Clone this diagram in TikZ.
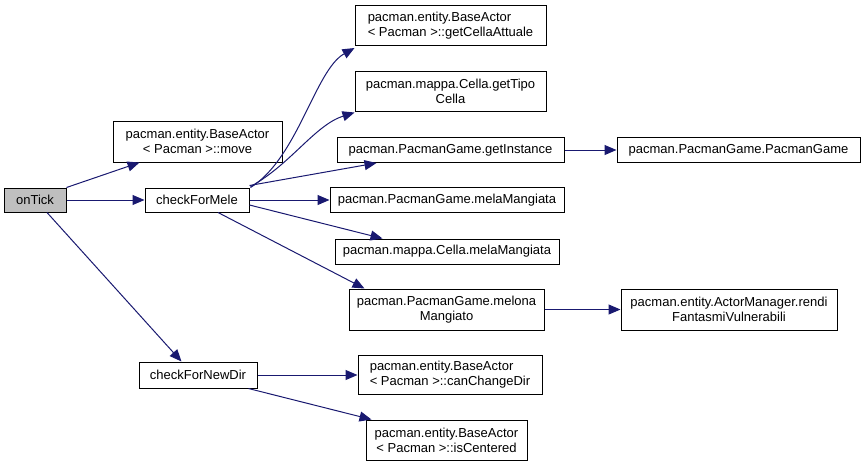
\documentclass[tikz,border=0pt]{standalone}
\usepackage{fontspec}
\setmainfont{Liberation Sans}
\usetikzlibrary{arrows.meta}
\definecolor{edgeblue}{HTML}{191970}
\definecolor{boxgray}{HTML}{BFBFBF}
\begin{document}
\begin{tikzpicture}[x=1pt,y=-1pt,
  box/.style={draw=black,line width=1pt,fill=white,inner sep=0pt,
    font=\fontsize{13}{15}\selectfont,align=center},
  edge/.style={draw=edgeblue,line width=1pt,-{Triangle[length=12pt,width=10pt]}}]
\useasboundingbox (0,0) rectangle (867,467);
% nodes
\node[box,fill=boxgray,minimum width=62pt,minimum height=24pt] (ontick) at (35,200) {onTick};
\node[box,minimum width=169pt,minimum height=41pt] (move) at (197.5,141.5) {pacman.entity.BaseActor\\< Pacman >::move};
\node[box,minimum width=104pt,minimum height=24pt] (cfm) at (197,200) {checkForMele};
\node[box,minimum width=191pt,minimum height=40pt,align=left] (gca) at (450.5,25.5) {pacman.entity.BaseActor\\< Pacman >::getCellaAttuale};
\node[box,minimum width=191pt,minimum height=40pt] (gtc) at (450.5,91) {pacman.mappa.Cella.getTipo\\Cella};
\node[box,minimum width=227pt,minimum height=25pt] (gi) at (450.5,150) {pacman.PacmanGame.getInstance};
\node[box,minimum width=243pt,minimum height=25pt] (pg) at (738.5,150) {pacman.PacmanGame.PacmanGame};
\node[box,minimum width=234pt,minimum height=25pt] (pgmm) at (447,200) {pacman.PacmanGame.melaMangiata};
\node[box,minimum width=224pt,minimum height=25pt] (cmm) at (447,251.5) {pacman.mappa.Cella.melaMangiata};
\node[box,minimum width=195pt,minimum height=41pt] (mel) at (446.5,309.5) {pacman.PacmanGame.melona\\Mangiato};
\node[box,minimum width=216pt,minimum height=41pt] (rfv) at (729,309.5) {pacman.entity.ActorManager.rendi\\FantasmiVulnerabili};
\node[box,minimum width=118pt,minimum height=26pt] (cfnd) at (198,375) {checkForNewDir};
\node[box,minimum width=184pt,minimum height=39pt,align=left] (ccd) at (450,375) {pacman.entity.BaseActor\\< Pacman >::canChangeDir};
\node[box,minimum width=161pt,minimum height=40pt] (isc) at (446.5,440) {pacman.entity.BaseActor\\< Pacman >::isCentered};
% edges
\draw[edge] (ontick.north east) -- ([xshift=27pt]move.south west);
\draw[edge] (ontick) -- (cfm);
\draw[edge] ([xshift=12pt]ontick.south) -- ([xshift=43pt]cfnd.north west);
\draw[edge] ([xshift=1pt]cfm.north east) .. controls (298,158) and (315,70) .. ([yshift=-2pt]gca.south west);
\draw[edge] ([xshift=1pt,yshift=1pt]cfm.north east) .. controls (290,165) and (315,125) .. ([yshift=-1pt]gtc.south west);
\draw[edge] ([yshift=2pt]cfm.north east) -- ([xshift=40pt]gi.south west);
\draw[edge] (cfm) -- (pgmm);
\draw[edge] ([yshift=-5pt]cfm.east) -- ([xshift=48pt]cmm.north west);
\draw[edge] ([xshift=21pt]cfm.south) -- ([xshift=16pt]mel.north west);
\draw[edge] (gi) -- (pg);
\draw[edge] (mel) -- (rfv);
\draw[edge] (cfnd) -- (ccd);
\draw[edge] ([xshift=-9pt]cfnd.south east) -- ([xshift=6pt]isc.north west);
\end{tikzpicture}
\end{document}
